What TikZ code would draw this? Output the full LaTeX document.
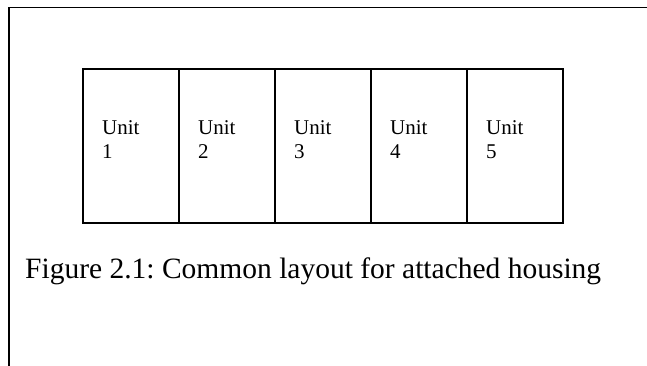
\documentclass[tikz,border=0pt]{standalone}
\usepackage{fontspec}
\setmainfont{Liberation Serif}
\usetikzlibrary{calc}
\frenchspacing
\begin{document}
\begin{tikzpicture}[x=1pt,y=-1pt,
  frame/.style={line width=1.8pt, line cap=rect},
  unitbox/.style={draw, line width=1.8pt, minimum width=96pt, minimum height=154pt, inner sep=0pt, outer sep=0pt, anchor=north west},
  unitlabel/.style={anchor=north west, inner sep=0pt, align=left, font=\fontsize{21}{24}\selectfont},
  caption/.style={anchor=base west, inner sep=0pt, font=\fontsize{29.5}{34}\selectfont}]
\useasboundingbox (0,0) rectangle (647,366);
\coordinate (ftop) at (647,7.5);
\coordinate (fcorner) at (9,7.5);
\coordinate (fbot) at (9,366);
\draw[frame] (ftop) -- (fcorner) -- (fbot);
\foreach \i in {1,...,5} {
  \node[unitbox] (box\i) at ({83+96*(\i-1)},69) {};
  \node[unitlabel] (lab\i) at ($(box\i.north west)+(19,51)$) {Unit\\\i};
}
\node[caption] (cap) at (25,278) {Figure 2.1: Common layout for attached housing};
\end{tikzpicture}
\end{document}
